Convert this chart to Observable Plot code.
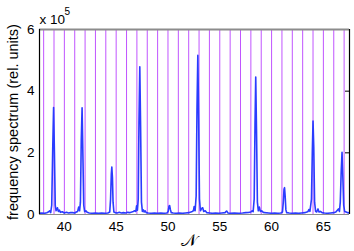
<!DOCTYPE html>
<html>
<head>
<meta charset="utf-8">
<script src="https://cdn.jsdelivr.net/npm/d3@7"></script>
<script src="https://cdn.jsdelivr.net/npm/@observablehq/plot@0.6"></script>
<style>
  html, body { margin: 0; padding: 0; background: #fff; }
</style>
</head>
<body>
<div id="chart"></div>
<script>
// ---- data ----
const xDomain = [37.6, 67.52];
const yDomain = [0, 6];
const xTicks = [40, 45, 50, 55, 60, 65];
const yTicks = [0, 2, 4, 6];
const markerN = [38,39,40,41,42,43,44,45,46,47,48,49,50,51,52,53,54,55,56,57,58,59,60,61,62,63,64,65,66,67];
const specN = [
  37.56,37.8,38.1,38.3,38.45,38.58,38.68,38.78,38.88,38.96,39.04,39.12,39.2,39.33,39.42,39.52,39.62,39.8,
  40.0,40.2,40.4,40.6,40.8,41.0,41.15,41.28,41.38,41.47,41.55,41.63,41.71,41.79,41.87,41.96,42.08,42.2,42.4,42.7,
  43.0,43.3,43.6,43.9,44.2,44.38,44.46,44.53,44.58,44.64,44.7,44.78,44.9,45.1,45.3,45.5,45.7,45.9,
  46.1,46.3,46.5,46.65,46.78,46.9,46.97,47.05,47.13,47.2,47.28,47.36,47.44,47.53,47.62,47.7,47.8,47.9,
  48.1,48.4,48.7,49.0,49.3,49.6,49.9,50.02,50.1,50.16,50.24,50.32,50.5,50.8,51.1,51.4,51.7,
  52.0,52.2,52.35,52.45,52.53,52.62,52.72,52.8,52.88,52.96,53.04,53.13,53.25,53.35,53.45,53.6,53.75,
  54.0,54.3,54.6,54.9,55.2,55.5,55.6,55.68,55.78,56.0,56.4,56.8,57.2,57.5,57.8,
  58.0,58.12,58.22,58.32,58.4,58.47,58.55,58.63,58.72,58.82,58.92,59.05,59.2,59.4,59.7,
  60.0,60.3,60.6,60.9,61.05,61.13,61.2,61.25,61.31,61.38,61.46,61.7,62.0,62.3,62.6,62.9,
  63.2,63.4,63.52,63.6,63.7,63.85,63.93,64.0,64.07,64.15,64.25,64.35,64.48,64.58,64.72,64.87,
  65.1,65.4,65.7,66.0,66.2,66.35,66.45,66.55,66.63,66.72,66.8,66.88,66.96,67.05,67.2,67.35,67.52
];
const specV = [
  0.04,0.05,0.04,0.06,0.08,0.12,0.06,0.3,2.2,3.47,2.0,0.3,0.12,0.22,0.1,0.14,0.07,0.09,
  0.05,0.07,0.05,0.06,0.06,0.05,0.08,0.1,0.24,0.12,0.4,2.4,3.46,1.9,0.3,0.09,0.12,0.07,0.05,0.04,
  0.05,0.04,0.05,0.04,0.05,0.08,0.5,1.3,1.54,1.2,0.4,0.08,0.06,0.05,0.07,0.05,0.06,0.05,
  0.07,0.06,0.08,0.1,0.12,0.1,0.28,0.14,0.5,3.0,4.79,2.8,0.4,0.1,0.15,0.08,0.12,0.06,
  0.05,0.04,0.05,0.04,0.05,0.04,0.05,0.1,0.27,0.29,0.15,0.06,0.05,0.04,0.05,0.04,0.05,
  0.06,0.08,0.1,0.12,0.26,0.12,0.6,3.4,5.16,3.1,0.5,0.12,0.2,0.22,0.1,0.12,0.06,
  0.05,0.04,0.05,0.04,0.05,0.06,0.1,0.11,0.05,0.04,0.05,0.04,0.05,0.06,0.07,
  0.08,0.12,0.09,0.5,2.9,4.46,2.6,0.4,0.12,0.24,0.1,0.12,0.07,0.06,0.05,
  0.04,0.05,0.04,0.05,0.08,0.4,0.82,0.87,0.6,0.15,0.06,0.05,0.04,0.05,0.04,0.05,
  0.06,0.08,0.1,0.16,0.1,0.5,2.0,3.03,2.2,0.4,0.1,0.08,0.18,0.08,0.1,0.06,
  0.05,0.04,0.05,0.06,0.08,0.14,0.18,0.1,0.4,1.4,2.02,1.2,0.3,0.1,0.08,0.06,0.05
];
const yLabel = "frequency spectrum (rel. units)";
const xLabel = "𝒩";
const expBase = "x 10";
const expPow = "5";

const spectrum = specN.map((n, i) => ({n, v: specV[i]}));

const chart = Plot.plot({
  width: 354,
  height: 251,
  marginLeft: 39,
  marginRight: 5,
  marginTop: 29,
  marginBottom: 37,
  style: {fontFamily: "'Liberation Sans', Arial, Helvetica, sans-serif", fontSize: "13.5px", background: "#fff", color: "#000", overflow: "visible"},
  x: {domain: xDomain, axis: null},
  y: {domain: yDomain, axis: null},
  marks: [
    Plot.ruleX(markerN, {stroke: "#c055ff", strokeWidth: 1}),
    Plot.ruleY([yDomain[1]], {stroke: "#8c8c8c", strokeWidth: 2.2}),
    Plot.ruleY([yDomain[0]], {stroke: "#8c8c8c", strokeWidth: 1.2}),
    Plot.line(spectrum, {x: "n", y: "v", stroke: "#2a3cff", strokeWidth: 1.6, clip: true}),
    Plot.ruleX([xDomain[0]], {stroke: "#000", strokeWidth: 1.2}),
    Plot.ruleX([xDomain[1]], {stroke: "#000", strokeWidth: 1.2}),
    Plot.tickY(yTicks.slice(1, 3), {stroke: "#000", insetLeft: 306}),
    Plot.text(xTicks, {x: d => d, frameAnchor: "bottom", textAnchor: "middle", lineAnchor: "middle", dy: 12, text: d => String(d)}),
    Plot.text(yTicks, {y: d => d, frameAnchor: "left", textAnchor: "end", lineAnchor: "middle", dx: -5, text: d => String(d)}),
    Plot.text([expBase], {frameAnchor: "top-left", textAnchor: "start", lineAnchor: "middle", dx: 0, dy: -10, fontSize: 13.5}),
    Plot.text([expPow], {frameAnchor: "top-left", textAnchor: "start", lineAnchor: "middle", dx: 25, dy: -17.5, fontSize: 10}),
    Plot.text([xLabel], {frameAnchor: "bottom", textAnchor: "middle", lineAnchor: "middle", dx: -6, dy: 26, fontSize: 17}),
    Plot.text([yLabel], {frameAnchor: "left", textAnchor: "middle", lineAnchor: "middle", rotate: -90, dx: -26, fontSize: 14.5})
  ]
});
document.getElementById("chart").appendChild(chart);
</script>
</body>
</html>
